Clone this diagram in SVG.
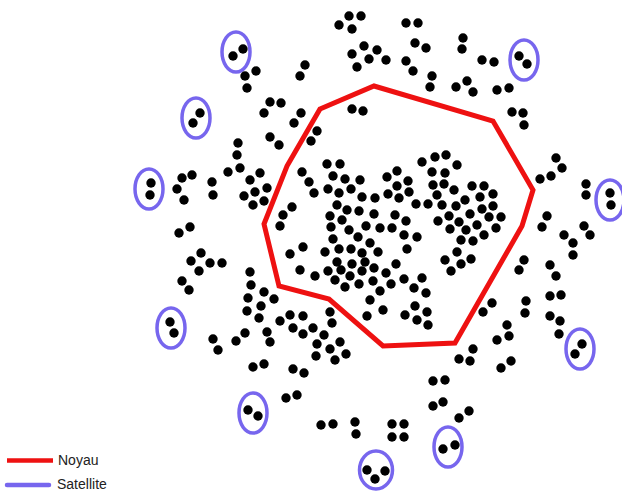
<svg xmlns="http://www.w3.org/2000/svg" width="622" height="491" viewBox="0 0 622 491">
<style>
.d{fill:#000}
.sat{fill:none;stroke:#7766EE;stroke-width:3.5}
.core{fill:none;stroke:#EE1111;stroke-width:5;stroke-linejoin:miter}
.lbl{font-family:"Liberation Sans",Arial,sans-serif;font-size:14px;fill:#222}
</style>
<defs><circle id="p" r="4.7"/></defs>
<rect width="622" height="491" fill="#fff"/>
<g id="noyau">
<polygon class="core" points="320,109 374,86 493,121 533,190 522,226 455,343 383,346 329,299 279,286 264,224 287,166"/>
</g>
<g id="satellites">
<ellipse class="sat" cx="236" cy="52" rx="14" ry="20"/>
<ellipse class="sat" cx="524" cy="60" rx="14" ry="20"/>
<ellipse class="sat" cx="196" cy="118" rx="14" ry="20"/>
<ellipse class="sat" cx="149" cy="189" rx="14" ry="20"/>
<ellipse class="sat" cx="610" cy="200" rx="14" ry="20"/>
<ellipse class="sat" cx="171" cy="328" rx="14" ry="20"/>
<ellipse class="sat" cx="580" cy="349" rx="14" ry="20"/>
<ellipse class="sat" cx="253" cy="413" rx="14" ry="20"/>
<ellipse class="sat" cx="448" cy="447" rx="14" ry="20"/>
<ellipse class="sat" cx="376" cy="470" rx="16.5" ry="19"/>
</g>
<g id="dots" class="d">
<use href="#p" x="349" y="16"/><use href="#p" x="361" y="16"/><use href="#p" x="339" y="25"/><use href="#p" x="352" y="29"/>
<use href="#p" x="406" y="23"/><use href="#p" x="418" y="23"/>
<use href="#p" x="415" y="43"/><use href="#p" x="426" y="48"/><use href="#p" x="406" y="61"/><use href="#p" x="413" y="71"/>
<use href="#p" x="364" y="46"/><use href="#p" x="377" y="50"/><use href="#p" x="352" y="54"/><use href="#p" x="369" y="59"/><use href="#p" x="386" y="60"/><use href="#p" x="357" y="67"/>
<use href="#p" x="463" y="38"/><use href="#p" x="462" y="49"/><use href="#p" x="482" y="60"/><use href="#p" x="494" y="62"/>
<use href="#p" x="432" y="76"/><use href="#p" x="430" y="87"/><use href="#p" x="456" y="87"/><use href="#p" x="467" y="81"/><use href="#p" x="473" y="92"/><use href="#p" x="497" y="90"/><use href="#p" x="509" y="88"/>
<use href="#p" x="512" y="112"/><use href="#p" x="523" y="113"/><use href="#p" x="524" y="125"/>
<use href="#p" x="243" y="49"/><use href="#p" x="233" y="56"/>
<use href="#p" x="519" y="56"/><use href="#p" x="527" y="64"/>
<use href="#p" x="245" y="76"/><use href="#p" x="256" y="71"/><use href="#p" x="247" y="88"/>
<use href="#p" x="305" y="65"/><use href="#p" x="300" y="76"/>
<use href="#p" x="270" y="102"/><use href="#p" x="281" y="103"/><use href="#p" x="264" y="113"/>
<use href="#p" x="301" y="113"/><use href="#p" x="294" y="123"/><use href="#p" x="317" y="131"/><use href="#p" x="311" y="141"/>
<use href="#p" x="270" y="137"/><use href="#p" x="279" y="145"/><use href="#p" x="238" y="143"/><use href="#p" x="237" y="155"/>
<use href="#p" x="352" y="109"/><use href="#p" x="363" y="111"/>
<use href="#p" x="327" y="164"/><use href="#p" x="340" y="164"/>
<use href="#p" x="200" y="113"/><use href="#p" x="193" y="123"/>
<use href="#p" x="556" y="158"/><use href="#p" x="562" y="168"/>
<use href="#p" x="422" y="162"/><use href="#p" x="435" y="157"/><use href="#p" x="446" y="155"/><use href="#p" x="457" y="165"/>
<use href="#p" x="151" y="183"/><use href="#p" x="150" y="195"/>
<use href="#p" x="192" y="175"/><use href="#p" x="182" y="178"/><use href="#p" x="177" y="189"/><use href="#p" x="184" y="200"/>
<use href="#p" x="179" y="233"/><use href="#p" x="190" y="227"/>
<use href="#p" x="201" y="253"/><use href="#p" x="191" y="261"/><use href="#p" x="199" y="271"/><use href="#p" x="210" y="263"/><use href="#p" x="222" y="263"/>
<use href="#p" x="182" y="281"/><use href="#p" x="189" y="290"/>
<use href="#p" x="228" y="172"/><use href="#p" x="240" y="168"/>
<use href="#p" x="212" y="182"/><use href="#p" x="213" y="195"/>
<use href="#p" x="250" y="180"/><use href="#p" x="260" y="173"/>
<use href="#p" x="244" y="196"/><use href="#p" x="255" y="192"/><use href="#p" x="267" y="188"/>
<use href="#p" x="253" y="205"/><use href="#p" x="264" y="201"/>
<use href="#p" x="302" y="172"/><use href="#p" x="309" y="182"/><use href="#p" x="314" y="193"/>
<use href="#p" x="333" y="176"/><use href="#p" x="345" y="179"/><use href="#p" x="360" y="180"/>
<use href="#p" x="328" y="189"/><use href="#p" x="339" y="193"/><use href="#p" x="351" y="189"/>
<use href="#p" x="387" y="177"/><use href="#p" x="397" y="171"/><use href="#p" x="408" y="181"/>
<use href="#p" x="397" y="186"/><use href="#p" x="409" y="192"/><use href="#p" x="388" y="194"/><use href="#p" x="399" y="198"/>
<use href="#p" x="362" y="197"/><use href="#p" x="375" y="198"/>
<use href="#p" x="337" y="205"/><use href="#p" x="347" y="210"/><use href="#p" x="359" y="211"/><use href="#p" x="374" y="214"/>
<use href="#p" x="416" y="204"/>
<use href="#p" x="283" y="215"/><use href="#p" x="292" y="207"/><use href="#p" x="280" y="226"/>
<use href="#p" x="330" y="216"/><use href="#p" x="342" y="220"/>
<use href="#p" x="395" y="215"/><use href="#p" x="406" y="221"/>
<use href="#p" x="331" y="227"/><use href="#p" x="349" y="230"/><use href="#p" x="366" y="226"/><use href="#p" x="380" y="228"/><use href="#p" x="392" y="228"/>
<use href="#p" x="404" y="235"/><use href="#p" x="417" y="237"/>
<use href="#p" x="333" y="239"/><use href="#p" x="358" y="237"/><use href="#p" x="370" y="243"/>
<use href="#p" x="303" y="247"/><use href="#p" x="290" y="254"/>
<use href="#p" x="325" y="252"/><use href="#p" x="339" y="249"/><use href="#p" x="351" y="249"/><use href="#p" x="362" y="253"/><use href="#p" x="378" y="252"/>
<use href="#p" x="407" y="249"/>
<use href="#p" x="337" y="262"/><use href="#p" x="352" y="264"/><use href="#p" x="365" y="262"/>
<use href="#p" x="396" y="264"/>
<use href="#p" x="300" y="270"/><use href="#p" x="315" y="276"/><use href="#p" x="328" y="271"/><use href="#p" x="341" y="270"/><use href="#p" x="350" y="276"/><use href="#p" x="362" y="271"/><use href="#p" x="374" y="268"/><use href="#p" x="386" y="273"/>
<use href="#p" x="250" y="272"/>
<use href="#p" x="335" y="280"/><use href="#p" x="345" y="287"/><use href="#p" x="359" y="284"/><use href="#p" x="373" y="281"/><use href="#p" x="391" y="284"/><use href="#p" x="404" y="279"/>
<use href="#p" x="380" y="291"/><use href="#p" x="414" y="288"/>
<use href="#p" x="251" y="285"/><use href="#p" x="264" y="292"/><use href="#p" x="274" y="299"/><use href="#p" x="248" y="298"/><use href="#p" x="261" y="306"/><use href="#p" x="247" y="311"/><use href="#p" x="259" y="318"/>
<use href="#p" x="370" y="300"/><use href="#p" x="383" y="310"/><use href="#p" x="367" y="316"/>
<use href="#p" x="330" y="312"/>
<use href="#p" x="405" y="315"/>
<use href="#p" x="280" y="321"/><use href="#p" x="290" y="315"/><use href="#p" x="303" y="316"/><use href="#p" x="332" y="323"/>
<use href="#p" x="432" y="172"/><use href="#p" x="445" y="173"/>
<use href="#p" x="433" y="185"/><use href="#p" x="444" y="184"/><use href="#p" x="454" y="190"/>
<use href="#p" x="472" y="186"/><use href="#p" x="484" y="186"/><use href="#p" x="493" y="194"/>
<use href="#p" x="437" y="195"/><use href="#p" x="428" y="204"/>
<use href="#p" x="442" y="205"/><use href="#p" x="456" y="206"/><use href="#p" x="465" y="200"/><use href="#p" x="480" y="197"/>
<use href="#p" x="482" y="209"/><use href="#p" x="493" y="206"/><use href="#p" x="470" y="214"/>
<use href="#p" x="449" y="216"/><use href="#p" x="459" y="222"/><use href="#p" x="477" y="225"/><use href="#p" x="489" y="217"/><use href="#p" x="501" y="217"/>
<use href="#p" x="438" y="221"/>
<use href="#p" x="450" y="229"/><use href="#p" x="466" y="230"/><use href="#p" x="496" y="228"/>
<use href="#p" x="484" y="235"/><use href="#p" x="461" y="240"/><use href="#p" x="473" y="241"/>
<use href="#p" x="457" y="252"/><use href="#p" x="445" y="260"/><use href="#p" x="461" y="264"/><use href="#p" x="471" y="259"/><use href="#p" x="451" y="271"/>
<use href="#p" x="540" y="179"/><use href="#p" x="551" y="176"/>
<use href="#p" x="586" y="184"/><use href="#p" x="586" y="195"/>
<use href="#p" x="610" y="193"/><use href="#p" x="611" y="205"/>
<use href="#p" x="547" y="216"/><use href="#p" x="542" y="227"/>
<use href="#p" x="584" y="226"/><use href="#p" x="590" y="235"/>
<use href="#p" x="564" y="235"/><use href="#p" x="573" y="243"/><use href="#p" x="573" y="255"/>
<use href="#p" x="524" y="260"/><use href="#p" x="519" y="270"/>
<use href="#p" x="550" y="265"/><use href="#p" x="556" y="276"/>
<use href="#p" x="422" y="278"/><use href="#p" x="426" y="293"/>
<use href="#p" x="415" y="306"/><use href="#p" x="427" y="312"/><use href="#p" x="428" y="325"/><use href="#p" x="417" y="320"/>
<use href="#p" x="492" y="303"/><use href="#p" x="483" y="312"/>
<use href="#p" x="526" y="301"/><use href="#p" x="525" y="313"/>
<use href="#p" x="550" y="296"/><use href="#p" x="561" y="295"/>
<use href="#p" x="550" y="316"/><use href="#p" x="560" y="321"/>
<use href="#p" x="507" y="325"/><use href="#p" x="509" y="336"/><use href="#p" x="497" y="340"/>
<use href="#p" x="213" y="339"/><use href="#p" x="218" y="350"/>
<use href="#p" x="236" y="341"/><use href="#p" x="245" y="333"/>
<use href="#p" x="267" y="332"/><use href="#p" x="270" y="342"/>
<use href="#p" x="293" y="328"/><use href="#p" x="303" y="334"/><use href="#p" x="313" y="328"/><use href="#p" x="324" y="335"/>
<use href="#p" x="317" y="344"/><use href="#p" x="330" y="349"/><use href="#p" x="340" y="342"/><use href="#p" x="346" y="354"/><use href="#p" x="335" y="360"/><use href="#p" x="316" y="356"/>
<use href="#p" x="253" y="367"/><use href="#p" x="264" y="364"/>
<use href="#p" x="293" y="369"/><use href="#p" x="304" y="373"/>
<use href="#p" x="286" y="398"/><use href="#p" x="297" y="395"/>
<use href="#p" x="248" y="410"/><use href="#p" x="258" y="416"/>
<use href="#p" x="321" y="425"/><use href="#p" x="333" y="424"/>
<use href="#p" x="355" y="422"/><use href="#p" x="356" y="434"/>
<use href="#p" x="392" y="424"/><use href="#p" x="404" y="424"/><use href="#p" x="392" y="437"/><use href="#p" x="404" y="437"/>
<use href="#p" x="367" y="470"/><use href="#p" x="385" y="471"/><use href="#p" x="375" y="479"/>
<use href="#p" x="473" y="349"/><use href="#p" x="470" y="361"/><use href="#p" x="459" y="359"/>
<use href="#p" x="501" y="368"/><use href="#p" x="511" y="361"/>
<use href="#p" x="559" y="334"/>
<use href="#p" x="582" y="344"/><use href="#p" x="575" y="354"/>
<use href="#p" x="433" y="381"/><use href="#p" x="445" y="380"/>
<use href="#p" x="433" y="406"/><use href="#p" x="443" y="402"/>
<use href="#p" x="459" y="418"/><use href="#p" x="469" y="411"/>
<use href="#p" x="443" y="449"/><use href="#p" x="455" y="445"/>
<use href="#p" x="170" y="322"/><use href="#p" x="174" y="333"/>
</g>
<g id="legend">
<line x1="7" y1="460.5" x2="53" y2="460.5" stroke="#EE1111" stroke-width="4.5"/>
<text class="lbl" x="58" y="465">Noyau</text>
<line x1="7" y1="485" x2="49" y2="485" stroke="#7766EE" stroke-width="4.5" stroke-linecap="round"/>
<text class="lbl" x="57" y="489">Satellite</text>
</g>
</svg>
